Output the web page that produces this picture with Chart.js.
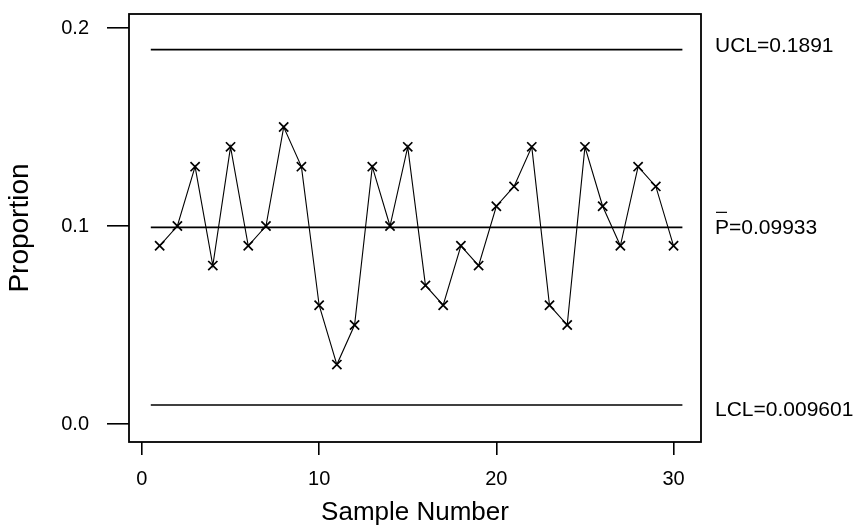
<!DOCTYPE html>
<html>
<head>
<meta charset="utf-8">
<script src="https://cdn.jsdelivr.net/npm/chart.js@4/dist/chart.umd.min.js"></script>
<style>
  html, body { margin: 0; padding: 0; background: #fff; }
  #wrap { width: 861px; height: 530px; }
</style>
</head>
<body>
<div id="wrap"><canvas id="pchart" width="861" height="530"></canvas></div>
<script>
// Sample numbers and observed proportion nonconforming
const samples = [1,2,3,4,5,6,7,8,9,10,11,12,13,14,15,16,17,18,19,20,21,22,23,24,25,26,27,28,29,30];
const proportions = [0.09,0.10,0.13,0.08,0.14,0.09,0.10,0.15,0.13,0.06,0.03,0.05,0.13,0.10,0.14,
                     0.07,0.06,0.09,0.08,0.11,0.12,0.14,0.06,0.05,0.14,0.11,0.09,0.13,0.12,0.09];

// Control limits
const ucl = 0.1891;
const centerLine = 0.09933;
const lcl = 0.009601;

// Axis ticks
const xTicks = [0, 10, 20, 30];
const yTicks = [0.0, 0.1, 0.2];

const FONT = '"Liberation Sans", Arial, Helvetica, sans-serif';
const limitStart = samples[0] - 0.5;
const limitEnd = samples[samples.length - 1] + 0.5;
const hline = v => [{ x: limitStart, y: v }, { x: limitEnd, y: v }];

// Box around the plotting region and limit labels at the right
const framePlugin = {
  id: 'frame',
  afterDraw(chart) {
    const { ctx, chartArea: a, scales } = chart;
    ctx.save();
    ctx.strokeStyle = '#000';
    ctx.lineWidth = 1.8;
    ctx.strokeRect(a.left, a.top, a.right - a.left, a.bottom - a.top);

    ctx.fillStyle = '#000';
    ctx.font = '21px ' + FONT;
    ctx.textBaseline = 'middle';
    ctx.textAlign = 'left';
    const lx = a.right + 14;
    const yU = scales.y.getPixelForValue(ucl);
    const yC = scales.y.getPixelForValue(centerLine);
    const yL = scales.y.getPixelForValue(lcl);
    ctx.fillText('UCL=' + ucl, lx, yU - 3);
    ctx.fillText('P=' + centerLine, lx, yC + 1);
    // bar over P
    const pw = ctx.measureText('P').width;
    ctx.lineWidth = 1.2;
    ctx.beginPath();
    ctx.moveTo(lx + 1, yC - 15);
    ctx.lineTo(lx + pw - 2, yC - 15);
    ctx.stroke();
    ctx.fillText('LCL=' + lcl, lx, yL + 5);
    ctx.restore();
  }
};

new Chart(document.getElementById('pchart'), {
  type: 'scatter',
  data: {
    datasets: [
      {
        label: 'Proportion',
        data: samples.map((s, i) => ({ x: s, y: proportions[i] })),
        showLine: true,
        borderColor: '#000',
        borderWidth: 1.1,
        pointStyle: 'crossRot',
        pointRadius: 6.5,
        pointBorderWidth: 1.7,
        pointBorderColor: '#000',
        pointBackgroundColor: '#000'
      },
      { label: 'UCL', data: hline(ucl), showLine: true, borderColor: '#000', borderWidth: 1.6, pointRadius: 0 },
      { label: 'P', data: hline(centerLine), showLine: true, borderColor: '#000', borderWidth: 1.6, pointRadius: 0 },
      { label: 'LCL', data: hline(lcl), showLine: true, borderColor: '#000', borderWidth: 1.6, pointRadius: 0 }
    ]
  },
  options: {
    responsive: false,
    animation: false,
    events: [],
    layout: { padding: { left: 0, top: 14, right: 160, bottom: 0 } },
    plugins: { legend: { display: false }, tooltip: { enabled: false } },
    scales: {
      x: {
        type: 'linear',
        min: -0.73,
        max: 31.55,
        afterBuildTicks: s => { s.ticks = xTicks.map(v => ({ value: v })); },
        afterFit: s => { s.height = 88; s.paddingLeft = 0; s.paddingRight = 0; },
        border: { display: false },
        grid: { drawOnChartArea: false, drawTicks: true, tickLength: 13, color: '#000', lineWidth: 1.6 },
        ticks: { color: '#000', font: { family: FONT, size: 20 }, padding: 12, maxRotation: 0,
                 callback: v => String(v) },
        title: { display: true, text: 'Sample Number', color: '#000',
                 font: { family: FONT, size: 26 }, padding: { top: 0, bottom: 2 } }
      },
      y: {
        type: 'linear',
        min: -0.0091,
        max: 0.2071,
        afterBuildTicks: s => { s.ticks = yTicks.map(v => ({ value: v })); },
        afterFit: s => { s.width = 129; s.paddingTop = 0; s.paddingBottom = 0; },
        border: { display: false },
        grid: { drawOnChartArea: false, drawTicks: true, tickLength: 22, color: '#000', lineWidth: 1.6 },
        ticks: { color: '#000', font: { family: FONT, size: 20 }, padding: 18,
                 callback: v => Number(v).toFixed(1) },
        title: { display: true, text: 'Proportion', color: '#000',
                 font: { family: FONT, size: 28 }, padding: { top: 3, bottom: 0 } }
      }
    }
  },
  plugins: [framePlugin]
});
</script>
</body>
</html>
